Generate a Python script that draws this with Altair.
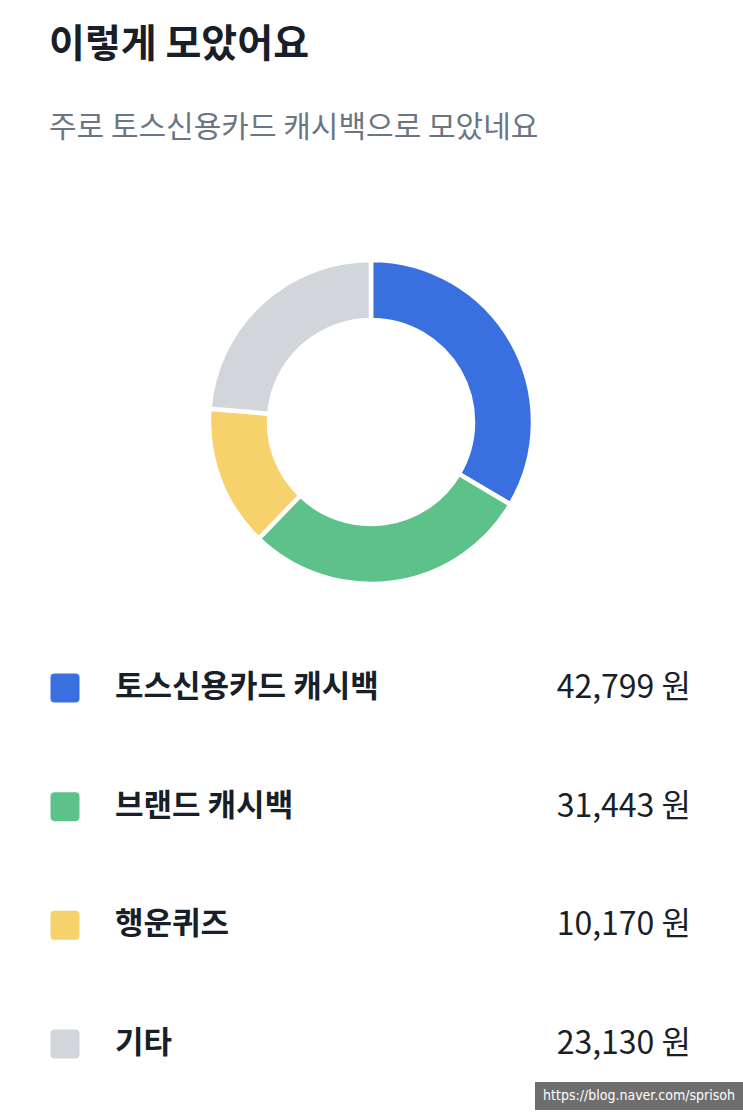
import altair as alt
import pandas as pd

# ---- data ----
categories = ["토스신용카드 캐시백", "브랜드 캐시백", "행운퀴즈", "기타"]
amounts = [42799, 31443, 10170, 23130]
# share of the ring each slice occupies in the picture (percent)
slice_shares = [33.5, 28.7, 14.1, 23.7]
colors = ["#3A6FE0", "#5CC289", "#F6D16C", "#D2D6DB"]

title_text = ["이렇게 모았어요"]
subtitle_text = ["주로 토스신용카드 캐시백으로 모았네요"]
watermark_text = ["https://blog.naver.com/sprisoh"]

FONT = "Noto Sans CJK KR"
W, H = 743, 1114

df = pd.DataFrame({
    "idx": list(range(len(categories))),
    "category": categories,
    "amount": amounts,
    "share": slice_shares,
    "label": [f"{a:,} 원" for a in amounts],
})

color_scale = alt.Scale(domain=categories, range=colors)
row_scale = alt.Scale(domain=categories, range=[688, 1044], padding=0)

base = alt.Chart(df)

donut = base.mark_arc(innerRadius=102, outerRadius=162, stroke="white", strokeWidth=4.5).encode(
    theta=alt.Theta("share:Q", stack=True),
    color=alt.Color("category:N", scale=color_scale, legend=None),
    order=alt.Order("idx:Q"),
    x=alt.value(371),
    y=alt.value(422),
)

rounded_square = ("M -0.72,-1 L 0.72,-1 Q 1,-1 1,-0.72 L 1,0.72 Q 1,1 0.72,1 "
                  "L -0.72,1 Q -1,1 -1,0.72 L -1,-0.72 Q -1,-1 -0.72,-1 Z")

swatches = base.mark_point(shape=rounded_square, filled=True, opacity=1, size=841, strokeWidth=0).encode(
    x=alt.value(65),
    y=alt.Y("category:N", scale=row_scale, axis=None),
    color=alt.Color("category:N", scale=color_scale, legend=None),
)

names = base.mark_text(align="left", baseline="middle", font=FONT, fontSize=31,
                       fontWeight="bold", color="#191F28").encode(
    x=alt.value(115),
    y=alt.Y("category:N", scale=row_scale, axis=None),
    text="category:N",
)

values = base.mark_text(align="right", baseline="middle", font=FONT, fontSize=32,
                        fontWeight="normal", color="#191F28").encode(
    x=alt.value(691),
    y=alt.Y("category:N", scale=row_scale, axis=None),
    text="label:N",
)

title = alt.Chart(pd.DataFrame({"t": title_text})).mark_text(
    align="left", baseline="middle", font=FONT, fontSize=39, fontWeight="bold", color="#191F28"
).encode(x=alt.value(49), y=alt.value(45), text="t:N")

subtitle = alt.Chart(pd.DataFrame({"t": subtitle_text})).mark_text(
    align="left", baseline="middle", font=FONT, fontSize=30, fontWeight="normal", color="#6B7684"
).encode(x=alt.value(49), y=alt.value(128), text="t:N")

wm_df = pd.DataFrame({"t": watermark_text})
wm_box = alt.Chart(wm_df).mark_rect(color="#6E6E6E").encode(
    x=alt.value(535), x2=alt.value(743), y=alt.value(1082), y2=alt.value(1110)
)
wm_text = alt.Chart(wm_df).mark_text(
    align="center", baseline="middle", font="Liberation Sans Narrow, DejaVu Sans Condensed", fontSize=14, color="white"
).encode(x=alt.value(639), y=alt.value(1096), text="t:N")

chart = alt.layer(donut, swatches, names, values, title, subtitle, wm_box, wm_text).properties(
    width=W, height=H, padding=0, autosize=alt.AutoSizeParams(type="none"), background="white"
).configure_view(stroke=None)

chart.save("out.html", embed_options={"renderer": "svg", "actions": False})
